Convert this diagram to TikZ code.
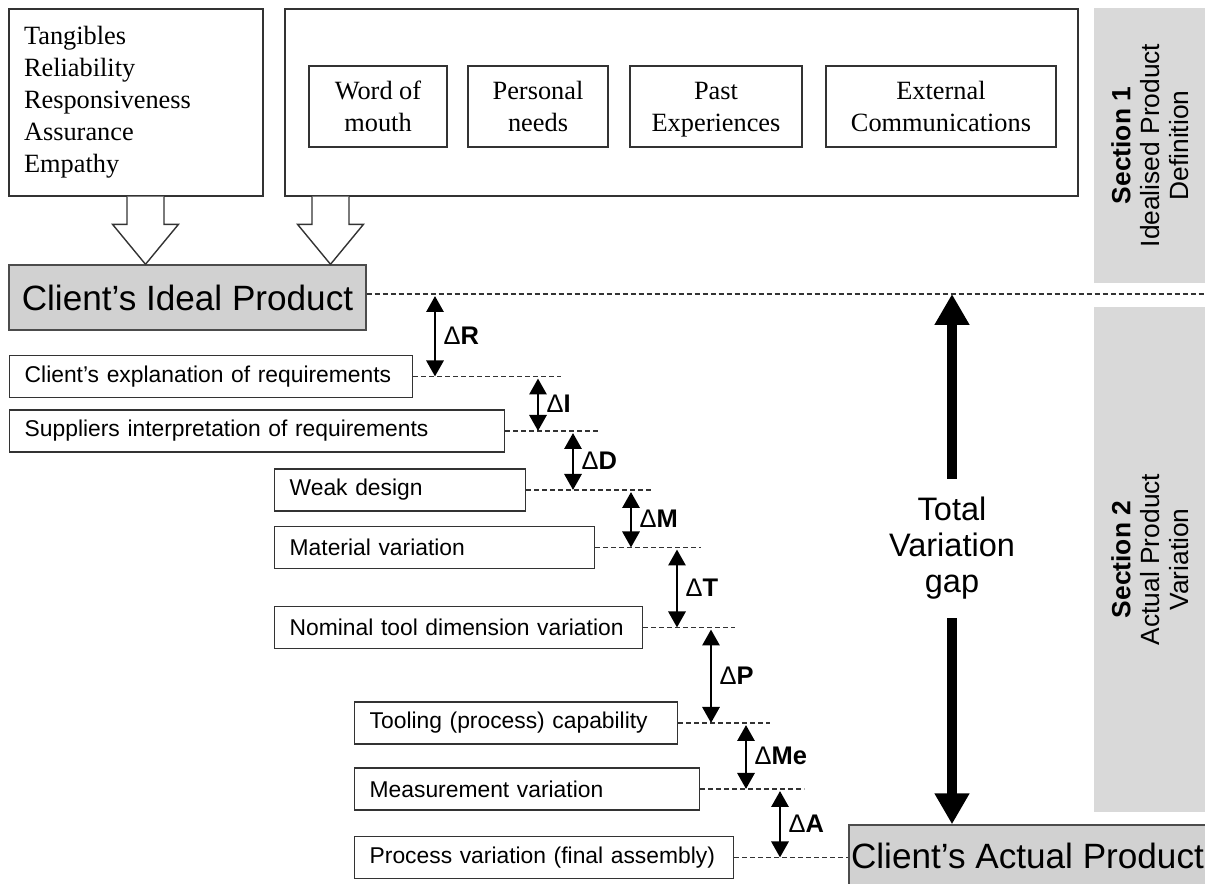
\documentclass[tikz,border=0pt]{standalone}
\usepackage{fontspec}
\setmainfont{Liberation Sans}
\newfontfamily\timesfont{Liberation Serif}
\usetikzlibrary{arrows.meta, calc}

\newcommand{\openarrow}[2]{%
  \draw [hollow] let \p1=(#1), \p2=(#2) in
    (\x1-0.37cm,\y1) -- (\x1-0.37cm,\y2+0.8cm) -- (\x1-0.66cm,\y2+0.8cm) -- (\x2,\y2)
    -- (\x1+0.66cm,\y2+0.8cm) -- (\x1+0.37cm,\y2+0.8cm) -- (\x1+0.37cm,\y1);}

\begin{document}
\begin{tikzpicture}[
    x=0.02cm, y=-0.02cm,
    outer/.style={rectangle, draw=black!80, line width=0.8pt, inner sep=0pt, font=\timesfont\fontsize{15}{18.2}\selectfont},
    factor/.style={outer, minimum height=1.62cm, align=center},
    product/.style={rectangle, draw=black!70, line width=0.8pt, fill=black!18, inner sep=0pt, font=\fontsize{20}{24}\selectfont},
    stage/.style={rectangle, draw=black!80, line width=0.8pt, anchor=west, inner xsep=0.3cm, inner ysep=0pt, minimum height=0.84cm, text width=#1, align=left, font=\fontsize{13}{15}\selectfont},
    secbox/.style={rectangle, fill=black!15, rotate=90, inner sep=0pt, align=center, font=\fontsize{15}{16.5}\selectfont},
    total/.style={align=center, minimum height=2.78cm, font=\fontsize{18.5}{20.5}\selectfont},
    hollow/.style={draw=black!80, line width=0.8pt, fill=white},
    gapline/.style={draw=black!80, line width=0.6pt, dash pattern=on 0.1cm off 0.06cm},
    delta/.style={line width=1.7pt, {Triangle[width=0.34cm,length=0.32cm]}-{Triangle[width=0.34cm,length=0.32cm]}, shorten <=0.04cm},
    dlabel/.style={right, inner xsep=4pt, font=\fontsize{14.5}{16}\selectfont\bfseries},
    bigarrow/.style={line width=0.19cm, -{Triangle[width=0.66cm,length=0.62cm]}}
]
    \useasboundingbox (0,0) rectangle (1205,884);

    \node (dims) [outer, inner xsep=0.3cm, text width=4.48cm, minimum height=3.74cm, align=left] at (136,102.5) {Tangibles\\Reliability\\Responsiveness\\Assurance\\Empathy};
    \node (drivers) [outer, minimum width=15.86cm, minimum height=3.74cm] at (681.5,102.5) {};
    \node (mouth) [factor, minimum width=2.76cm] at (378,106.5) {Word of\\mouth};
    \node (needs) [factor, minimum width=2.8cm] at (538,106.5) {Personal\\needs};
    \node (past) [factor, minimum width=3.44cm] at (716,106.5) {Past\\\smash{Experiences}};
    \node (extcomm) [factor, minimum width=4.6cm] at (941,106.5) {External\\Communications};

    \node (sec1) [secbox, minimum width=5.5cm, minimum height=2.24cm] at (1150,145.5) {\textbf{Section 1}\\Idealised Product\\Definition};
    \node (sec2) [secbox, minimum width=10.1cm, minimum height=2.24cm] at (1150,559.5) {\textbf{Section 2}\\Actual Product\\Variation};

    \node (ideal) [product, minimum width=7.14cm, minimum height=1.3cm] at (187.5,297.5) {Client's Ideal Product};
    \node (actual) [product, minimum width=7.14cm, minimum height=1.24cm] at (1027.5,856) {Client's Actual Product};

    \coordinate (ta) at (145.5,0);
    \coordinate (tb) at (330.5,0);
    \openarrow{ta |- dims.south}{ta |- ideal.north}
    \openarrow{tb |- drivers.south}{tb |- ideal.north}

    \node (expl) [stage=7.46cm] at (9,376.5) {Client's explanation of requirements};
    \node (interp) [stage=9.3cm] at (9,431) {Suppliers interpretation of requirements};
    \node (design) [stage=4.42cm] at (274,490) {Weak design};
    \node (material) [stage=5.8cm] at (274,547.5) {Material variation};
    \node (nominal) [stage=6.76cm] at (274,627.5) {Nominal tool dimension variation};
    \node (tooling) [stage=5.86cm] at (354,723) {Tooling (process) capability};
    \node (measure) [stage=6.3cm] at (354,789) {Measurement variation};
    \node (process) [stage=6.98cm] at (354,857.5) {Process variation (final assembly)};

    \draw [gapline] ([yshift=0.07cm]ideal.east) -- ++(839,0) coordinate (l0);
    \draw [gapline] (expl.east) -- ++(148,0) coordinate (l1);
    \draw [gapline] (interp.east) -- ++(93,0) coordinate (l2);
    \draw [gapline] (design.east) -- ++(127,0) coordinate (l3);
    \draw [gapline] (material.east) -- ++(106,0) coordinate (l4);
    \draw [gapline] (nominal.east) -- ++(92,0) coordinate (l5);
    \draw [gapline] (tooling.east) -- ++(92,0) coordinate (l6);
    \draw [gapline] (measure.east) -- ++(104,0) coordinate (l7);
    \draw [gapline] (process.east) -- (process.east -| actual.west);

    \draw [delta] (435,0 |- l0) -- node[dlabel] {\textmd{Δ}R} (435,0 |- l1);
    \draw [delta] (538,0 |- l1) -- node[dlabel] {\textmd{Δ}I} (538,0 |- l2);
    \draw [delta] (573,0 |- l2) -- node[dlabel] {\textmd{Δ}D} (573,0 |- l3);
    \draw [delta] (631,0 |- l3) -- node[dlabel] {\textmd{Δ}M} (631,0 |- l4);
    \draw [delta] (677,0 |- l4) -- node[dlabel] {\textmd{Δ}T} (677,0 |- l5);
    \draw [delta] (711,0 |- l5) -- node[dlabel] {\textmd{Δ}P} (711,0 |- l6);
    \draw [delta] (746,0 |- l6) -- node[dlabel] {\textmd{Δ}Me} (746,0 |- l7);
    \draw [delta] (780,0 |- l7) -- node[dlabel] {\textmd{Δ}A} (780,0 |- process.east);

    \node (gap) [total] at (952,548.5) {Total\\Variation\\gap};
    \draw [bigarrow] (gap.north) -- (gap.north |- l0);
    \draw [bigarrow] (gap.south) -- (gap.south |- actual.north);
\end{tikzpicture}
\end{document}
